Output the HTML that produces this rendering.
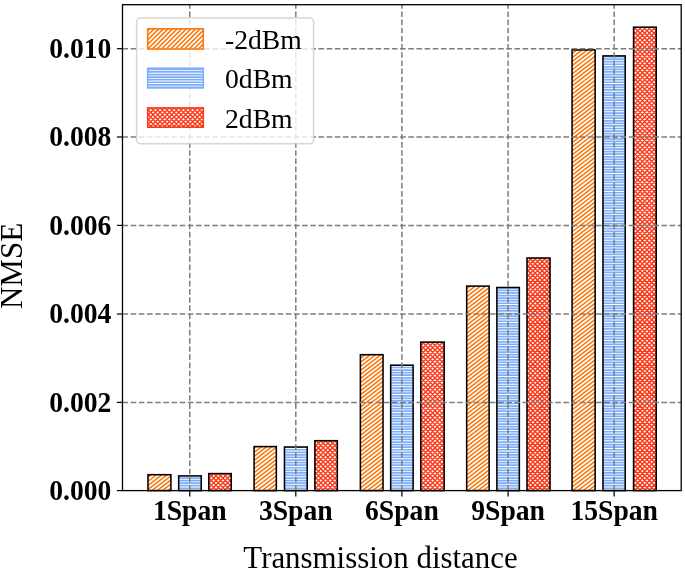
<!DOCTYPE html>
<html lang="en"><head><meta charset="utf-8"><title>NMSE vs transmission distance</title>
<style>html,body{margin:0;padding:0;background:#fff}svg{display:block}text{font-family:"Liberation Serif","Times New Roman",serif;fill:#000}</style>
</head><body>
<svg width="685" height="569" viewBox="0 0 685 569">
<defs>
<clipPath id="co">
<rect x="147.97" y="474.7" width="22.95" height="15.9"/>
<rect x="254.08" y="446.6" width="22.25" height="44"/>
<rect x="360.38" y="354.7" width="22.65" height="135.9"/>
<rect x="466.67" y="286.1" width="22.45" height="204.5"/>
<rect x="572.07" y="49.9" width="23.05" height="440.7"/>
</clipPath>
<clipPath id="lo"><rect x="147.7" y="28.85" width="55.6" height="20.2"/></clipPath>
<clipPath id="cb">
<rect x="178.68" y="475.9" width="22.55" height="14.7"/>
<rect x="284.47" y="447" width="22.75" height="43.6"/>
<rect x="390.67" y="365.2" width="22.45" height="125.4"/>
<rect x="496.88" y="287.5" width="22.45" height="203.1"/>
<rect x="602.98" y="55.9" width="22.25" height="434.7"/>
</clipPath>
<clipPath id="lb"><rect x="147.7" y="68.25" width="55.6" height="19.65"/></clipPath>
<clipPath id="cr">
<rect x="208.78" y="473.6" width="22.45" height="17"/>
<rect x="314.88" y="440.7" width="22.45" height="49.9"/>
<rect x="420.77" y="342.1" width="23.4" height="148.5"/>
<rect x="526.98" y="258" width="23.05" height="232.6"/>
<rect x="633.57" y="27.2" width="22.65" height="463.4"/>
</clipPath>
<clipPath id="lr"><rect x="147.7" y="107.9" width="55.6" height="19.3"/></clipPath>
<path id="ho" d="M140 -107.8L660 -508.2M140 -103.75L660 -504.15M140 -99.7L660 -500.1M140 -95.65L660 -496.05M140 -91.6L660 -492M140 -87.55L660 -487.95M140 -83.5L660 -483.9M140 -79.45L660 -479.85M140 -75.4L660 -475.8M140 -71.35L660 -471.75M140 -67.3L660 -467.7M140 -63.25L660 -463.65M140 -59.2L660 -459.6M140 -55.15L660 -455.55M140 -51.1L660 -451.5M140 -47.05L660 -447.45M140 -43L660 -443.4M140 -38.95L660 -439.35M140 -34.9L660 -435.3M140 -30.85L660 -431.25M140 -26.8L660 -427.2M140 -22.75L660 -423.15M140 -18.7L660 -419.1M140 -14.65L660 -415.05M140 -10.6L660 -411M140 -6.55L660 -406.95M140 -2.5L660 -402.9M140 1.55L660 -398.85M140 5.6L660 -394.8M140 9.65L660 -390.75M140 13.7L660 -386.7M140 17.75L660 -382.65M140 21.8L660 -378.6M140 25.85L660 -374.55M140 29.9L660 -370.5M140 33.95L660 -366.45M140 38L660 -362.4M140 42.05L660 -358.35M140 46.1L660 -354.3M140 50.15L660 -350.25M140 54.2L660 -346.2M140 58.25L660 -342.15M140 62.3L660 -338.1M140 66.35L660 -334.05M140 70.4L660 -330M140 74.45L660 -325.95M140 78.5L660 -321.9M140 82.55L660 -317.85M140 86.6L660 -313.8M140 90.65L660 -309.75M140 94.7L660 -305.7M140 98.75L660 -301.65M140 102.8L660 -297.6M140 106.85L660 -293.55M140 110.9L660 -289.5M140 114.95L660 -285.45M140 119L660 -281.4M140 123.05L660 -277.35M140 127.1L660 -273.3M140 131.15L660 -269.25M140 135.2L660 -265.2M140 139.25L660 -261.15M140 143.3L660 -257.1M140 147.35L660 -253.05M140 151.4L660 -249M140 155.45L660 -244.95M140 159.5L660 -240.9M140 163.55L660 -236.85M140 167.6L660 -232.8M140 171.65L660 -228.75M140 175.7L660 -224.7M140 179.75L660 -220.65M140 183.8L660 -216.6M140 187.85L660 -212.55M140 191.9L660 -208.5M140 195.95L660 -204.45M140 200L660 -200.4M140 204.05L660 -196.35M140 208.1L660 -192.3M140 212.15L660 -188.25M140 216.2L660 -184.2M140 220.25L660 -180.15M140 224.3L660 -176.1M140 228.35L660 -172.05M140 232.4L660 -168M140 236.45L660 -163.95M140 240.5L660 -159.9M140 244.55L660 -155.85M140 248.6L660 -151.8M140 252.65L660 -147.75M140 256.7L660 -143.7M140 260.75L660 -139.65M140 264.8L660 -135.6M140 268.85L660 -131.55M140 272.9L660 -127.5M140 276.95L660 -123.45M140 281L660 -119.4M140 285.05L660 -115.35M140 289.1L660 -111.3M140 293.15L660 -107.25M140 297.2L660 -103.2M140 301.25L660 -99.15M140 305.3L660 -95.1M140 309.35L660 -91.05M140 313.4L660 -87M140 317.45L660 -82.95M140 321.5L660 -78.9M140 325.55L660 -74.85M140 329.6L660 -70.8M140 333.65L660 -66.75M140 337.7L660 -62.7M140 341.75L660 -58.65M140 345.8L660 -54.6M140 349.85L660 -50.55M140 353.9L660 -46.5M140 357.95L660 -42.45M140 362L660 -38.4M140 366.05L660 -34.35M140 370.1L660 -30.3M140 374.15L660 -26.25M140 378.2L660 -22.2M140 382.25L660 -18.15M140 386.3L660 -14.1M140 390.35L660 -10.05M140 394.4L660 -6M140 398.45L660 -1.95M140 402.5L660 2.1M140 406.55L660 6.15M140 410.6L660 10.2M140 414.65L660 14.25M140 418.7L660 18.3M140 422.75L660 22.35M140 426.8L660 26.4M140 430.85L660 30.45M140 434.9L660 34.5M140 438.95L660 38.55M140 443L660 42.6M140 447.05L660 46.65M140 451.1L660 50.7M140 455.15L660 54.75M140 459.2L660 58.8M140 463.25L660 62.85M140 467.3L660 66.9M140 471.35L660 70.95M140 475.4L660 75M140 479.45L660 79.05M140 483.5L660 83.1M140 487.55L660 87.15M140 491.6L660 91.2M140 495.65L660 95.25M140 499.7L660 99.3M140 503.75L660 103.35M140 507.8L660 107.4M140 511.85L660 111.45M140 515.9L660 115.5M140 519.95L660 119.55M140 524L660 123.6M140 528.05L660 127.65M140 532.1L660 131.7M140 536.15L660 135.75M140 540.2L660 139.8M140 544.25L660 143.85M140 548.3L660 147.9M140 552.35L660 151.95M140 556.4L660 156M140 560.45L660 160.05M140 564.5L660 164.1M140 568.55L660 168.15M140 572.6L660 172.2M140 576.65L660 176.25M140 580.7L660 180.3M140 584.75L660 184.35M140 588.8L660 188.4M140 592.85L660 192.45M140 596.9L660 196.5M140 600.95L660 200.55M140 605L660 204.6M140 609.05L660 208.65M140 613.1L660 212.7M140 617.15L660 216.75M140 621.2L660 220.8M140 625.25L660 224.85M140 629.3L660 228.9M140 633.35L660 232.95M140 637.4L660 237M140 641.45L660 241.05M140 645.5L660 245.1M140 649.55L660 249.15M140 653.6L660 253.2M140 657.65L660 257.25M140 661.7L660 261.3M140 665.75L660 265.35M140 669.8L660 269.4M140 673.85L660 273.45M140 677.9L660 277.5M140 681.95L660 281.55M140 686L660 285.6M140 690.05L660 289.65M140 694.1L660 293.7M140 698.15L660 297.75M140 702.2L660 301.8M140 706.25L660 305.85M140 710.3L660 309.9M140 714.35L660 313.95M140 718.4L660 318M140 722.45L660 322.05M140 726.5L660 326.1M140 730.55L660 330.15M140 734.6L660 334.2M140 738.65L660 338.25M140 742.7L660 342.3M140 746.75L660 346.35M140 750.8L660 350.4M140 754.85L660 354.45M140 758.9L660 358.5M140 762.95L660 362.55M140 767L660 366.6M140 771.05L660 370.65M140 775.1L660 374.7M140 779.15L660 378.75M140 783.2L660 382.8M140 787.25L660 386.85M140 791.3L660 390.9M140 795.35L660 394.95M140 799.4L660 399M140 803.45L660 403.05M140 807.5L660 407.1M140 811.55L660 411.15M140 815.6L660 415.2M140 819.65L660 419.25M140 823.7L660 423.3M140 827.75L660 427.35M140 831.8L660 431.4M140 835.85L660 435.45M140 839.9L660 439.5M140 843.95L660 443.55M140 848L660 447.6M140 852.05L660 451.65M140 856.1L660 455.7M140 860.15L660 459.75M140 864.2L660 463.8M140 868.25L660 467.85M140 872.3L660 471.9M140 876.35L660 475.95M140 880.4L660 480M140 884.45L660 484.05M140 888.5L660 488.1M140 892.55L660 492.15" stroke="#fa780c" stroke-width="1.55" fill="none"/>
<path id="hol" d="M100 60L160 0M104.6 60L164.6 0M109.2 60L169.2 0M113.8 60L173.8 0M118.4 60L178.4 0M123 60L183 0M127.6 60L187.6 0M132.2 60L192.2 0M136.8 60L196.8 0M141.4 60L201.4 0M146 60L206 0M150.6 60L210.6 0M155.2 60L215.2 0M159.8 60L219.8 0M164.4 60L224.4 0M169 60L229 0M173.6 60L233.6 0M178.2 60L238.2 0M182.8 60L242.8 0M187.4 60L247.4 0M192 60L252 0M196.6 60L256.6 0M201.2 60L261.2 0M205.8 60L265.8 0M210.4 60L270.4 0M215 60L275 0M219.6 60L279.6 0M224.2 60L284.2 0M228.8 60L288.8 0M233.4 60L293.4 0" stroke="#fa780c" stroke-width="1.58" fill="none"/>
<path id="hb" d="M140 0H660M140 2.57H660M140 5.14H660M140 7.71H660M140 10.28H660M140 12.85H660M140 15.42H660M140 17.99H660M140 20.56H660M140 23.13H660M140 25.7H660M140 28.27H660M140 30.84H660M140 33.41H660M140 35.98H660M140 38.55H660M140 41.12H660M140 43.69H660M140 46.26H660M140 48.83H660M140 51.4H660M140 53.97H660M140 56.54H660M140 59.11H660M140 61.68H660M140 64.25H660M140 66.82H660M140 69.39H660M140 71.96H660M140 74.53H660M140 77.1H660M140 79.67H660M140 82.24H660M140 84.81H660M140 87.38H660M140 89.95H660M140 92.52H660M140 95.09H660M140 97.66H660M140 100.23H660M140 102.8H660M140 105.37H660M140 107.94H660M140 110.51H660M140 113.08H660M140 115.65H660M140 118.22H660M140 120.79H660M140 123.36H660M140 125.93H660M140 128.5H660M140 131.07H660M140 133.64H660M140 136.21H660M140 138.78H660M140 141.35H660M140 143.92H660M140 146.49H660M140 149.06H660M140 151.63H660M140 154.2H660M140 156.77H660M140 159.34H660M140 161.91H660M140 164.48H660M140 167.05H660M140 169.62H660M140 172.19H660M140 174.76H660M140 177.33H660M140 179.9H660M140 182.47H660M140 185.04H660M140 187.61H660M140 190.18H660M140 192.75H660M140 195.32H660M140 197.89H660M140 200.46H660M140 203.03H660M140 205.6H660M140 208.17H660M140 210.74H660M140 213.31H660M140 215.88H660M140 218.45H660M140 221.02H660M140 223.59H660M140 226.16H660M140 228.73H660M140 231.3H660M140 233.87H660M140 236.44H660M140 239.01H660M140 241.58H660M140 244.15H660M140 246.72H660M140 249.29H660M140 251.86H660M140 254.43H660M140 257H660M140 259.57H660M140 262.14H660M140 264.71H660M140 267.28H660M140 269.85H660M140 272.42H660M140 274.99H660M140 277.56H660M140 280.13H660M140 282.7H660M140 285.27H660M140 287.84H660M140 290.41H660M140 292.98H660M140 295.55H660M140 298.12H660M140 300.69H660M140 303.26H660M140 305.83H660M140 308.4H660M140 310.97H660M140 313.54H660M140 316.11H660M140 318.68H660M140 321.25H660M140 323.82H660M140 326.39H660M140 328.96H660M140 331.53H660M140 334.1H660M140 336.67H660M140 339.24H660M140 341.81H660M140 344.38H660M140 346.95H660M140 349.52H660M140 352.09H660M140 354.66H660M140 357.23H660M140 359.8H660M140 362.37H660M140 364.94H660M140 367.51H660M140 370.08H660M140 372.65H660M140 375.22H660M140 377.79H660M140 380.36H660M140 382.93H660M140 385.5H660M140 388.07H660M140 390.64H660M140 393.21H660M140 395.78H660M140 398.35H660M140 400.92H660M140 403.49H660M140 406.06H660M140 408.63H660M140 411.2H660M140 413.77H660M140 416.34H660M140 418.91H660M140 421.48H660M140 424.05H660M140 426.62H660M140 429.19H660M140 431.76H660M140 434.33H660M140 436.9H660M140 439.47H660M140 442.04H660M140 444.61H660M140 447.18H660M140 449.75H660M140 452.32H660M140 454.89H660M140 457.46H660M140 460.03H660M140 462.6H660M140 465.17H660M140 467.74H660M140 470.31H660M140 472.88H660M140 475.45H660M140 478.02H660M140 480.59H660M140 483.16H660M140 485.73H660M140 488.3H660M140 490.87H660M140 493.44H660" stroke="#80aef9" stroke-width="1.72" fill="none"/>
<path id="hr" d="M-395 495L100 0M-390.34 495L104.66 0M-385.68 495L109.32 0M-381.02 495L113.98 0M-376.36 495L118.64 0M-371.7 495L123.3 0M-367.04 495L127.96 0M-362.38 495L132.62 0M-357.72 495L137.28 0M-353.06 495L141.94 0M-348.4 495L146.6 0M-343.74 495L151.26 0M-339.08 495L155.92 0M-334.42 495L160.58 0M-329.76 495L165.24 0M-325.1 495L169.9 0M-320.44 495L174.56 0M-315.78 495L179.22 0M-311.12 495L183.88 0M-306.46 495L188.54 0M-301.8 495L193.2 0M-297.14 495L197.86 0M-292.48 495L202.52 0M-287.82 495L207.18 0M-283.16 495L211.84 0M-278.5 495L216.5 0M-273.84 495L221.16 0M-269.18 495L225.82 0M-264.52 495L230.48 0M-259.86 495L235.14 0M-255.2 495L239.8 0M-250.54 495L244.46 0M-245.88 495L249.12 0M-241.22 495L253.78 0M-236.56 495L258.44 0M-231.9 495L263.1 0M-227.24 495L267.76 0M-222.58 495L272.42 0M-217.92 495L277.08 0M-213.26 495L281.74 0M-208.6 495L286.4 0M-203.94 495L291.06 0M-199.28 495L295.72 0M-194.62 495L300.38 0M-189.96 495L305.04 0M-185.3 495L309.7 0M-180.64 495L314.36 0M-175.98 495L319.02 0M-171.32 495L323.68 0M-166.66 495L328.34 0M-162 495L333 0M-157.34 495L337.66 0M-152.68 495L342.32 0M-148.02 495L346.98 0M-143.36 495L351.64 0M-138.7 495L356.3 0M-134.04 495L360.96 0M-129.38 495L365.62 0M-124.72 495L370.28 0M-120.06 495L374.94 0M-115.4 495L379.6 0M-110.74 495L384.26 0M-106.08 495L388.92 0M-101.42 495L393.58 0M-96.76 495L398.24 0M-92.1 495L402.9 0M-87.44 495L407.56 0M-82.78 495L412.22 0M-78.12 495L416.88 0M-73.46 495L421.54 0M-68.8 495L426.2 0M-64.14 495L430.86 0M-59.48 495L435.52 0M-54.82 495L440.18 0M-50.16 495L444.84 0M-45.5 495L449.5 0M-40.84 495L454.16 0M-36.18 495L458.82 0M-31.52 495L463.48 0M-26.86 495L468.14 0M-22.2 495L472.8 0M-17.54 495L477.46 0M-12.88 495L482.12 0M-8.22 495L486.78 0M-3.56 495L491.44 0M1.1 495L496.1 0M5.76 495L500.76 0M10.42 495L505.42 0M15.08 495L510.08 0M19.74 495L514.74 0M24.4 495L519.4 0M29.06 495L524.06 0M33.72 495L528.72 0M38.38 495L533.38 0M43.04 495L538.04 0M47.7 495L542.7 0M52.36 495L547.36 0M57.02 495L552.02 0M61.68 495L556.68 0M66.34 495L561.34 0M71 495L566 0M75.66 495L570.66 0M80.32 495L575.32 0M84.98 495L579.98 0M89.64 495L584.64 0M94.3 495L589.3 0M98.96 495L593.96 0M103.62 495L598.62 0M108.28 495L603.28 0M112.94 495L607.94 0M117.6 495L612.6 0M122.26 495L617.26 0M126.92 495L621.92 0M131.58 495L626.58 0M136.24 495L631.24 0M140.9 495L635.9 0M145.56 495L640.56 0M150.22 495L645.22 0M154.88 495L649.88 0M159.54 495L654.54 0M164.2 495L659.2 0M168.86 495L663.86 0M173.52 495L668.52 0M178.18 495L673.18 0M182.84 495L677.84 0M187.5 495L682.5 0M192.16 495L687.16 0M196.82 495L691.82 0M201.48 495L696.48 0M206.14 495L701.14 0M210.8 495L705.8 0M215.46 495L710.46 0M220.12 495L715.12 0M224.78 495L719.78 0M229.44 495L724.44 0M234.1 495L729.1 0M238.76 495L733.76 0M243.42 495L738.42 0M248.08 495L743.08 0M252.74 495L747.74 0M257.4 495L752.4 0M262.06 495L757.06 0M266.72 495L761.72 0M271.38 495L766.38 0M276.04 495L771.04 0M280.7 495L775.7 0M285.36 495L780.36 0M290.02 495L785.02 0M294.68 495L789.68 0M299.34 495L794.34 0M304 495L799 0M308.66 495L803.66 0M313.32 495L808.32 0M317.98 495L812.98 0M322.64 495L817.64 0M327.3 495L822.3 0M331.96 495L826.96 0M336.62 495L831.62 0M341.28 495L836.28 0M345.94 495L840.94 0M350.6 495L845.6 0M355.26 495L850.26 0M359.92 495L854.92 0M364.58 495L859.58 0M369.24 495L864.24 0M373.9 495L868.9 0M378.56 495L873.56 0M383.22 495L878.22 0M387.88 495L882.88 0M392.54 495L887.54 0M397.2 495L892.2 0M401.86 495L896.86 0M406.52 495L901.52 0M411.18 495L906.18 0M415.84 495L910.84 0M420.5 495L915.5 0M425.16 495L920.16 0M429.82 495L924.82 0M434.48 495L929.48 0M439.14 495L934.14 0M443.8 495L938.8 0M448.46 495L943.46 0M453.12 495L948.12 0M457.78 495L952.78 0M462.44 495L957.44 0M467.1 495L962.1 0M471.76 495L966.76 0M476.42 495L971.42 0M481.08 495L976.08 0M485.74 495L980.74 0M490.4 495L985.4 0M495.06 495L990.06 0M499.72 495L994.72 0M504.38 495L999.38 0M509.04 495L1004.04 0M513.7 495L1008.7 0M518.36 495L1013.36 0M523.02 495L1018.02 0M527.68 495L1022.68 0M532.34 495L1027.34 0M537 495L1032 0M541.66 495L1036.66 0M546.32 495L1041.32 0M550.98 495L1045.98 0M555.64 495L1050.64 0M560.3 495L1055.3 0M564.96 495L1059.96 0M569.62 495L1064.62 0M574.28 495L1069.28 0M578.94 495L1073.94 0M583.6 495L1078.6 0M588.26 495L1083.26 0M592.92 495L1087.92 0M597.58 495L1092.58 0M602.24 495L1097.24 0M606.9 495L1101.9 0M611.56 495L1106.56 0M616.22 495L1111.22 0M620.88 495L1115.88 0M625.54 495L1120.54 0M630.2 495L1125.2 0M634.86 495L1129.86 0M639.52 495L1134.52 0M644.18 495L1139.18 0M648.84 495L1143.84 0M653.5 495L1148.5 0M658.16 495L1153.16 0M662.82 495L1157.82 0M667.48 495L1162.48 0M672.14 495L1167.14 0M676.8 495L1171.8 0M681.46 495L1176.46 0M686.12 495L1181.12 0M690.78 495L1185.78 0M695.44 495L1190.44 0M700.1 495L1195.1 0M704.76 495L1199.76 0M709.42 495L1204.42 0M714.08 495L1209.08 0M718.74 495L1213.74 0M723.4 495L1218.4 0M728.06 495L1223.06 0M732.72 495L1227.72 0M737.38 495L1232.38 0M742.04 495L1237.04 0M746.7 495L1241.7 0M751.36 495L1246.36 0M756.02 495L1251.02 0M-395 0L100 495M-390.34 0L104.66 495M-385.68 0L109.32 495M-381.02 0L113.98 495M-376.36 0L118.64 495M-371.7 0L123.3 495M-367.04 0L127.96 495M-362.38 0L132.62 495M-357.72 0L137.28 495M-353.06 0L141.94 495M-348.4 0L146.6 495M-343.74 0L151.26 495M-339.08 0L155.92 495M-334.42 0L160.58 495M-329.76 0L165.24 495M-325.1 0L169.9 495M-320.44 0L174.56 495M-315.78 0L179.22 495M-311.12 0L183.88 495M-306.46 0L188.54 495M-301.8 0L193.2 495M-297.14 0L197.86 495M-292.48 0L202.52 495M-287.82 0L207.18 495M-283.16 0L211.84 495M-278.5 0L216.5 495M-273.84 0L221.16 495M-269.18 0L225.82 495M-264.52 0L230.48 495M-259.86 0L235.14 495M-255.2 0L239.8 495M-250.54 0L244.46 495M-245.88 0L249.12 495M-241.22 0L253.78 495M-236.56 0L258.44 495M-231.9 0L263.1 495M-227.24 0L267.76 495M-222.58 0L272.42 495M-217.92 0L277.08 495M-213.26 0L281.74 495M-208.6 0L286.4 495M-203.94 0L291.06 495M-199.28 0L295.72 495M-194.62 0L300.38 495M-189.96 0L305.04 495M-185.3 0L309.7 495M-180.64 0L314.36 495M-175.98 0L319.02 495M-171.32 0L323.68 495M-166.66 0L328.34 495M-162 0L333 495M-157.34 0L337.66 495M-152.68 0L342.32 495M-148.02 0L346.98 495M-143.36 0L351.64 495M-138.7 0L356.3 495M-134.04 0L360.96 495M-129.38 0L365.62 495M-124.72 0L370.28 495M-120.06 0L374.94 495M-115.4 0L379.6 495M-110.74 0L384.26 495M-106.08 0L388.92 495M-101.42 0L393.58 495M-96.76 0L398.24 495M-92.1 0L402.9 495M-87.44 0L407.56 495M-82.78 0L412.22 495M-78.12 0L416.88 495M-73.46 0L421.54 495M-68.8 0L426.2 495M-64.14 0L430.86 495M-59.48 0L435.52 495M-54.82 0L440.18 495M-50.16 0L444.84 495M-45.5 0L449.5 495M-40.84 0L454.16 495M-36.18 0L458.82 495M-31.52 0L463.48 495M-26.86 0L468.14 495M-22.2 0L472.8 495M-17.54 0L477.46 495M-12.88 0L482.12 495M-8.22 0L486.78 495M-3.56 0L491.44 495M1.1 0L496.1 495M5.76 0L500.76 495M10.42 0L505.42 495M15.08 0L510.08 495M19.74 0L514.74 495M24.4 0L519.4 495M29.06 0L524.06 495M33.72 0L528.72 495M38.38 0L533.38 495M43.04 0L538.04 495M47.7 0L542.7 495M52.36 0L547.36 495M57.02 0L552.02 495M61.68 0L556.68 495M66.34 0L561.34 495M71 0L566 495M75.66 0L570.66 495M80.32 0L575.32 495M84.98 0L579.98 495M89.64 0L584.64 495M94.3 0L589.3 495M98.96 0L593.96 495M103.62 0L598.62 495M108.28 0L603.28 495M112.94 0L607.94 495M117.6 0L612.6 495M122.26 0L617.26 495M126.92 0L621.92 495M131.58 0L626.58 495M136.24 0L631.24 495M140.9 0L635.9 495M145.56 0L640.56 495M150.22 0L645.22 495M154.88 0L649.88 495M159.54 0L654.54 495M164.2 0L659.2 495M168.86 0L663.86 495M173.52 0L668.52 495M178.18 0L673.18 495M182.84 0L677.84 495M187.5 0L682.5 495M192.16 0L687.16 495M196.82 0L691.82 495M201.48 0L696.48 495M206.14 0L701.14 495M210.8 0L705.8 495M215.46 0L710.46 495M220.12 0L715.12 495M224.78 0L719.78 495M229.44 0L724.44 495M234.1 0L729.1 495M238.76 0L733.76 495M243.42 0L738.42 495M248.08 0L743.08 495M252.74 0L747.74 495M257.4 0L752.4 495M262.06 0L757.06 495M266.72 0L761.72 495M271.38 0L766.38 495M276.04 0L771.04 495M280.7 0L775.7 495M285.36 0L780.36 495M290.02 0L785.02 495M294.68 0L789.68 495M299.34 0L794.34 495M304 0L799 495M308.66 0L803.66 495M313.32 0L808.32 495M317.98 0L812.98 495M322.64 0L817.64 495M327.3 0L822.3 495M331.96 0L826.96 495M336.62 0L831.62 495M341.28 0L836.28 495M345.94 0L840.94 495M350.6 0L845.6 495M355.26 0L850.26 495M359.92 0L854.92 495M364.58 0L859.58 495M369.24 0L864.24 495M373.9 0L868.9 495M378.56 0L873.56 495M383.22 0L878.22 495M387.88 0L882.88 495M392.54 0L887.54 495M397.2 0L892.2 495M401.86 0L896.86 495M406.52 0L901.52 495M411.18 0L906.18 495M415.84 0L910.84 495M420.5 0L915.5 495M425.16 0L920.16 495M429.82 0L924.82 495M434.48 0L929.48 495M439.14 0L934.14 495M443.8 0L938.8 495M448.46 0L943.46 495M453.12 0L948.12 495M457.78 0L952.78 495M462.44 0L957.44 495M467.1 0L962.1 495M471.76 0L966.76 495M476.42 0L971.42 495M481.08 0L976.08 495M485.74 0L980.74 495M490.4 0L985.4 495M495.06 0L990.06 495M499.72 0L994.72 495M504.38 0L999.38 495M509.04 0L1004.04 495M513.7 0L1008.7 495M518.36 0L1013.36 495M523.02 0L1018.02 495M527.68 0L1022.68 495M532.34 0L1027.34 495M537 0L1032 495M541.66 0L1036.66 495M546.32 0L1041.32 495M550.98 0L1045.98 495M555.64 0L1050.64 495M560.3 0L1055.3 495M564.96 0L1059.96 495M569.62 0L1064.62 495M574.28 0L1069.28 495M578.94 0L1073.94 495M583.6 0L1078.6 495M588.26 0L1083.26 495M592.92 0L1087.92 495M597.58 0L1092.58 495M602.24 0L1097.24 495M606.9 0L1101.9 495M611.56 0L1106.56 495M616.22 0L1111.22 495M620.88 0L1115.88 495M625.54 0L1120.54 495M630.2 0L1125.2 495M634.86 0L1129.86 495M639.52 0L1134.52 495M644.18 0L1139.18 495M648.84 0L1143.84 495M653.5 0L1148.5 495M658.16 0L1153.16 495M662.82 0L1157.82 495M667.48 0L1162.48 495M672.14 0L1167.14 495M676.8 0L1171.8 495M681.46 0L1176.46 495" stroke="#fa3c1c" stroke-width="1.45" fill="none"/>
</defs>
<rect width="685" height="569" fill="#fff"/>
<g clip-path="url(#co)"><use href="#ho"/></g>
<g clip-path="url(#cb)"><use href="#hb"/></g>
<g clip-path="url(#cr)"><use href="#hr"/></g>
<g stroke="#000" stroke-width="1.55" fill="none">
<rect x="147.97" y="474.7" width="22.95" height="15.9"/>
<rect x="254.08" y="446.6" width="22.25" height="44"/>
<rect x="360.38" y="354.7" width="22.65" height="135.9"/>
<rect x="466.67" y="286.1" width="22.45" height="204.5"/>
<rect x="572.07" y="49.9" width="23.05" height="440.7"/>
<rect x="178.68" y="475.9" width="22.55" height="14.7"/>
<rect x="284.47" y="447" width="22.75" height="43.6"/>
<rect x="390.67" y="365.2" width="22.45" height="125.4"/>
<rect x="496.88" y="287.5" width="22.45" height="203.1"/>
<rect x="602.98" y="55.9" width="22.25" height="434.7"/>
<rect x="208.78" y="473.6" width="22.45" height="17"/>
<rect x="314.88" y="440.7" width="22.45" height="49.9"/>
<rect x="420.77" y="342.1" width="23.4" height="148.5"/>
<rect x="526.98" y="258" width="23.05" height="232.6"/>
<rect x="633.57" y="27.2" width="22.65" height="463.4"/>
</g>
<g stroke="#7d7d7d" stroke-width="1.5" stroke-dasharray="5.63 2.535" fill="none">
<line x1="189.75" y1="490.6" x2="189.75" y2="4.7"/>
<line x1="295.8" y1="490.6" x2="295.8" y2="4.7"/>
<line x1="401.9" y1="490.6" x2="401.9" y2="4.7"/>
<line x1="508.1" y1="490.6" x2="508.1" y2="4.7"/>
<line x1="614.15" y1="490.6" x2="614.15" y2="4.7"/>
<line x1="122.5" y1="402.4" x2="681.2" y2="402.4"/>
<line x1="122.5" y1="314.0" x2="681.2" y2="314.0"/>
<line x1="122.5" y1="225.4" x2="681.2" y2="225.4"/>
<line x1="122.5" y1="137.0" x2="681.2" y2="137.0"/>
<line x1="122.5" y1="48.7" x2="681.2" y2="48.7"/>
</g>
<g stroke="#000" stroke-width="1.23">
<line x1="189.75" y1="490.6" x2="189.75" y2="496.6"/>
<line x1="295.8" y1="490.6" x2="295.8" y2="496.6"/>
<line x1="401.9" y1="490.6" x2="401.9" y2="496.6"/>
<line x1="508.1" y1="490.6" x2="508.1" y2="496.6"/>
<line x1="614.15" y1="490.6" x2="614.15" y2="496.6"/>
<line x1="122.5" y1="490.6" x2="116.9" y2="490.6"/>
<line x1="122.5" y1="402.4" x2="116.9" y2="402.4"/>
<line x1="122.5" y1="314.0" x2="116.9" y2="314.0"/>
<line x1="122.5" y1="225.4" x2="116.9" y2="225.4"/>
<line x1="122.5" y1="137.0" x2="116.9" y2="137.0"/>
<line x1="122.5" y1="48.7" x2="116.9" y2="48.7"/>
</g>
<rect x="122.5" y="4.7" width="558.7" height="485.9" fill="none" stroke="#000" stroke-width="1.3"/>
<g font-size="27.65" font-weight="bold">
<text transform="translate(111.4 500) scale(1 1.06)" text-anchor="end">0.000</text>
<text transform="translate(111.4 411.8) scale(1 1.06)" text-anchor="end">0.002</text>
<text transform="translate(111.4 323.4) scale(1 1.06)" text-anchor="end">0.004</text>
<text transform="translate(111.4 234.8) scale(1 1.06)" text-anchor="end">0.006</text>
<text transform="translate(111.4 146.4) scale(1 1.06)" text-anchor="end">0.008</text>
<text transform="translate(111.4 58.1) scale(1 1.06)" text-anchor="end">0.010</text>
<text transform="translate(189.75 520.4) scale(1 1.05)" text-anchor="middle">1Span</text>
<text transform="translate(295.8 520.4) scale(1 1.05)" text-anchor="middle">3Span</text>
<text transform="translate(401.9 520.4) scale(1 1.05)" text-anchor="middle">6Span</text>
<text transform="translate(508.1 520.4) scale(1 1.05)" text-anchor="middle">9Span</text>
<text transform="translate(614.15 520.4) scale(1 1.05)" text-anchor="middle">15Span</text>
</g>
<text x="380.5" y="568.2" font-size="30.9" text-anchor="middle">Transmission distance</text>
<text transform="translate(21.5 265.9) rotate(-90)" font-size="31.1" text-anchor="middle">NMSE</text>
<rect x="136.6" y="17.95" width="177" height="125.85" rx="4" ry="4" fill="#fff" fill-opacity="0.8" stroke="#ccc" stroke-opacity="0.8" stroke-width="1.5"/>
<rect x="147.7" y="28.85" width="55.6" height="20.2" fill="#fff"/>
<g clip-path="url(#lo)"><use href="#hol"/></g>
<rect x="147.7" y="28.85" width="55.6" height="20.2" fill="none" stroke="#fa780c" stroke-width="1.6"/>
<rect x="147.7" y="68.25" width="55.6" height="19.65" fill="#fff"/>
<g clip-path="url(#lb)"><use href="#hb"/></g>
<rect x="147.7" y="68.25" width="55.6" height="19.65" fill="none" stroke="#80aef9" stroke-width="1.6"/>
<rect x="147.7" y="107.9" width="55.6" height="19.3" fill="#fff"/>
<g clip-path="url(#lr)"><use href="#hr"/></g>
<rect x="147.7" y="107.9" width="55.6" height="19.3" fill="none" stroke="#fa3c1c" stroke-width="1.6"/>
<g font-size="27.65">
<text x="225.0" y="48.6">-2dBm</text>
<text x="225.0" y="88.0">0dBm</text>
<text x="225.0" y="127.5">2dBm</text>
</g>
</svg>
</body></html>
